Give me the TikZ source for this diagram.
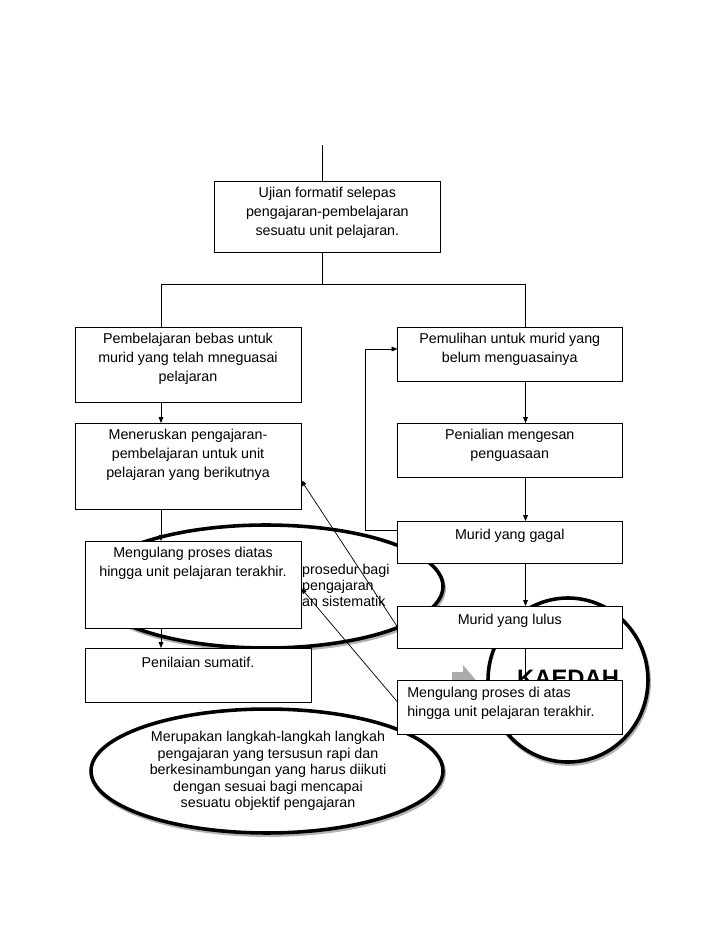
\documentclass[tikz,border=0pt]{standalone}
\usepackage{fontspec}
\setmainfont{Liberation Sans}
\usetikzlibrary{arrows.meta,fit,shapes.geometric,positioning}

\begin{document}
\begin{tikzpicture}[x=0.8407pt, y=-0.8407pt,
	kotak/.style={draw, fill=white, line width=0.7pt, inner sep=0pt, outer sep=0pt},
	teks/.style={anchor=north, inner sep=0pt, align=center, font=\fontsize{12}{16}\selectfont, execute at begin node={\rule{0pt}{11pt}}},
	panah/.style={-{Triangle[length=5pt,width=4pt]}, line width=0.6pt},
	garis/.style={line width=0.6pt},
	bujur/.style={ellipse, draw, fill=white, line width=3pt, inner sep=0pt, preaction={draw=black!30, line width=3pt, transform canvas={shift={(1pt,-1.8pt)}}}}]
	\useasboundingbox (0,0) rectangle (728,943);

	\node[bujur, minimum width=297.6pt, minimum height=103.4pt] (kaedahA) at (266,586.5) {};
	\node[teks, anchor=north west, align=left, font=\fontsize{12}{13.5}\selectfont] (prosedur) at (302,564) {prosedur bagi\\pengajaran\\an sistematik};

	\node[bujur, minimum width=295.9pt, minimum height=104.2pt] (langkah) at (267,771) {};
	\node[teks, font=\fontsize{12}{13.9}\selectfont] (langkah-t) at (268,731) {Merupakan langkah-langkah langkah\\pengajaran yang tersusun rapi dan\\berkesinambungan yang harus diikuti\\dengan sesuai bagi mencapai\\sesuatu objektif pengajaran};

	\node[bujur, minimum width=134.5pt, minimum height=137.9pt] (kaedahB) at (568,680) {};
	\node[anchor=base west, inner sep=0pt, font=\fontsize{20}{24}\selectfont\bfseries] (kaedah) at (517,686) {KAEDAH};
	\fill[black!33] (452,672) -- (463,672) -- (463,665) -- (486,692) -- (463,719) -- (463,712) -- (452,712) -- cycle;

	\node[kotak, fit={(214.7,181) (440,252)}] (ujian) {};
	\node[kotak, fit={(75,327) (301,402)}] (bebas) {};
	\node[kotak, fit={(397.5,327) (622,381)}] (pemulihan) {};
	\node[kotak, fit={(75,423) (301,509)}] (meneruskan) {};
	\node[kotak, fit={(397.5,423) (622,477)}] (penilaian) {};
	\node[kotak, fit={(397.5,521) (622,563)}] (gagal) {};
	\node[kotak, fit={(85,541) (301,628)}] (ulangA) {};
	\node[kotak, fit={(397.5,606) (622,648)}] (lulus) {};
	\node[kotak, fit={(85,648) (311,702)}] (sumatif) {};
	\node[kotak, fit={(397.5,680) (622,734)}] (ulangB) {};

	\node[teks] (ujian-t) at ([yshift=-5pt]ujian.north) {Ujian formatif selepas\\pengajaran-pembelajaran\\sesuatu unit pelajaran.};
	\node[teks] (bebas-t) at ([yshift=-5pt]bebas.north) {Pembelajaran bebas untuk\\murid yang telah mneguasai\\pelajaran};
	\node[teks] (pemulihan-t) at ([yshift=-5pt]pemulihan.north) {Pemulihan untuk murid yang\\belum menguasainya};
	\node[teks] (meneruskan-t) at ([yshift=-5pt]meneruskan.north) {Meneruskan pengajaran-\\pembelajaran untuk unit\\pelajaran yang berikutnya};
	\node[teks] (penilaian-t) at ([yshift=-5pt]penilaian.north) {Penialian mengesan\\penguasaan};
	\node[teks] (gagal-t) at ([yshift=-4pt]gagal.north) {Murid yang gagal};
	\node[teks] (ulangA-t) at ([yshift=-5pt]ulangA.north) {Mengulang proses diatas\\hingga unit pelajaran terakhir.};
	\node[teks] (lulus-t) at ([yshift=-4.5pt]lulus.north) {Murid yang lulus};
	\node[teks] (sumatif-t) at ([yshift=-5pt]sumatif.north) {Penilaian sumatif.};
	\node[teks, anchor=north west, align=left] (ulangB-t) at ([xshift=8pt,yshift=-5.5pt]ulangB.north west) {Mengulang proses di atas\\hingga unit pelajaran terakhir.};

	\coordinate (puncak) at (322.5,145);
	\coordinate (cabangKiri) at (161,284);
	\coordinate (cabangKanan) at (525.5,284);
	\coordinate (balik) at (365.5,349);

	\draw[garis] (puncak) -- (puncak |- ujian.north);
	\draw[garis] (puncak |- ujian.south) -- (puncak |- cabangKiri);
	\draw[garis] (cabangKiri) -- (cabangKanan);
	\draw[garis] (cabangKiri) -- (cabangKiri |- bebas.north);
	\draw[garis] (cabangKanan) -- (cabangKanan |- pemulihan.north);

	\draw[panah] (cabangKiri |- bebas.south) -- (cabangKiri |- meneruskan.north);
	\draw[panah] (cabangKiri |- meneruskan.south) -- (cabangKiri |- ulangA.north);
	\draw[panah] (cabangKiri |- ulangA.south) -- (cabangKiri |- sumatif.north);

	\draw[panah] (cabangKanan |- pemulihan.south) -- (cabangKanan |- penilaian.north);
	\draw[panah] (cabangKanan |- penilaian.south) -- (cabangKanan |- gagal.north);
	\draw[panah] (cabangKanan |- gagal.south) -- (cabangKanan |- lulus.north);
	\draw[garis] (cabangKanan |- lulus.south) -- (cabangKanan |- ulangB.north);

	\draw[panah] ([yshift=-7.6pt]gagal.north west) -| (balik) -- (balik -| pemulihan.west);

	\draw[panah] (lulus.west) -- ([yshift=-11.8pt]meneruskan.east);
	\draw[panah] ([yshift=4.2pt]ulangB.west) -- ([yshift=-3pt]ulangA.east);
\end{tikzpicture}
\end{document}
